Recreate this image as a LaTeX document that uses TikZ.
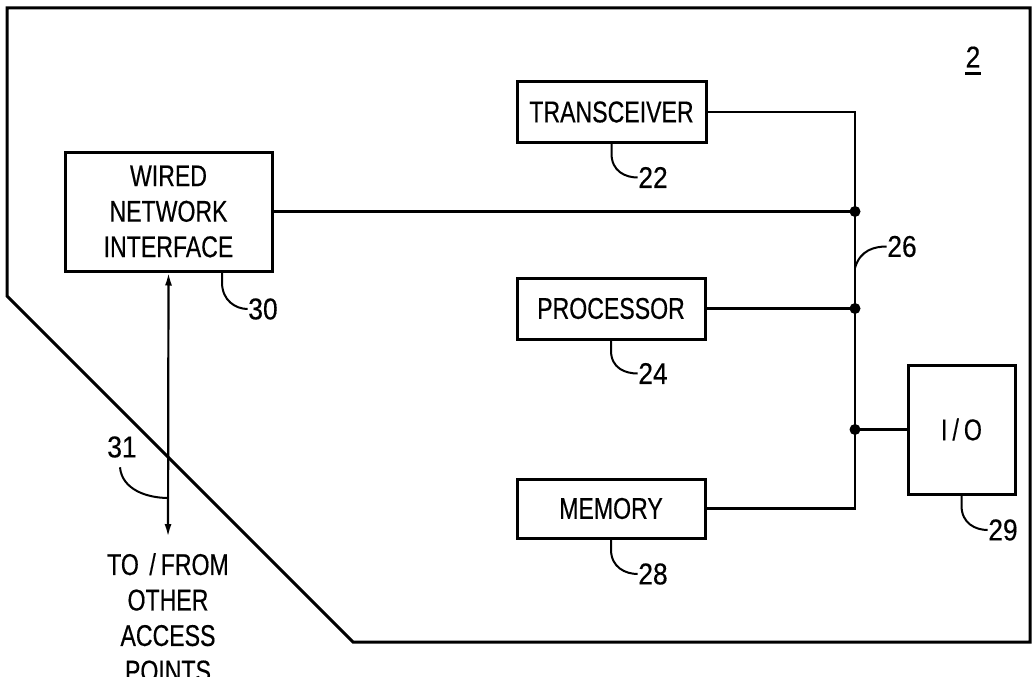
\documentclass[tikz,border=0pt]{standalone}
\usepackage{fontspec}
\setmainfont{Liberation Sans}[FakeStretch=0.77,FakeBold=0.4]
\newfontfamily\numfamily{Liberation Sans}[FakeStretch=0.88,FakeBold=0.4]
\usetikzlibrary{arrows.meta,calc}
\newcommand\figfont{\fontsize{30}{35.5}\selectfont}
\newcommand\numfont{\numfamily\fontsize{30}{35.5}\selectfont}
\begin{document}
\begin{tikzpicture}[x=1pt,y=-1pt,
  frame/.style={draw,line width=3pt,line join=miter},
  box/.style={draw,line width=3pt,inner sep=0pt,align=center,font=\figfont},
  conn/.style={line width=2.2pt},
  lead/.style={line width=2pt},
  lbl/.style={font=\numfont,inner sep=0.5pt},
  dot/.style={circle,fill,inner sep=0pt,minimum size=11pt}]
\useasboundingbox (0,0) rectangle (1034,677);
% outer outline
\draw[frame] (7,8) -- (1030,8) -- (1030,642) -- (353,642) -- (7,296) -- cycle;
% blocks
\node[box,minimum width=207pt,minimum height=119pt] (wni) at (168.5,211.5) {WIRED\\NETWORK\\INTERFACE};
\node[box,minimum width=189pt,minimum height=60pt] (tr) at (611.5,112) {TRANSCEIVER};
\node[box,minimum width=188pt,minimum height=61pt] (proc) at (611,308.5) {PROCESSOR};
\node[box,minimum width=188pt,minimum height=59pt] (mem) at (611,508.5) {MEMORY};
\node[box,minimum width=107pt,minimum height=129pt] (io) at (961.5,429.5) {I\,/\,O};
% bus
\coordinate (bus) at (855,0);
\draw[conn] (tr.east) -| (bus |- mem.east) -- (mem.east);
\draw[conn] (wni.east) -- (wni.east -| bus);
\draw[conn] (proc.east) -- (proc.east -| bus);
\draw[conn] (io.west) -- (io.west -| bus);
\node[dot] (jw) at (wni.east -| bus) {};
\node[dot] (jp) at (proc.east -| bus) {};
\node[dot] (ji) at (io.west -| bus) {};
% external link
\node[font=\figfont,align=center,anchor=north,inner sep=0pt] (apt) at (168,553) {TO\hspace{0.35em}/\,FROM\\OTHER\\ACCESS\\POINTS};
\draw[conn,{Latex[length=13pt,width=7pt]}-{Latex[length=13pt,width=7pt]},shorten >=16pt] (wni.south) -- (apt.north);
% reference numerals
\node[lbl] (l22) at (653,177.5) {22};
\node[lbl] (l30) at (263,309) {30};
\node[lbl] (l24) at (653,373.5) {24};
\node[lbl] (l28) at (653,574) {28};
\node[lbl] (l29) at (1003,530) {29};
\node[lbl] (l26) at (902,246.5) {26};
\node[lbl] (l31) at (122,447) {31};
\node[lbl,inner sep=0pt] (fig) at (973,57) {2};
\draw[line width=2.5pt] ([yshift=-6pt]fig.south west) -- ([yshift=-6pt]fig.south east);
% leaders
\draw[lead] (tr.south) -- ++(0,10) .. controls +(0,18) and +(-12,0) .. (l22.west);
\draw[lead] ($(wni.south)+(53.5,0)$) -- ++(0,10) .. controls +(0,18) and +(-12,0) .. (l30.west);
\draw[lead] (proc.south) -- ++(0,10) .. controls +(0,18) and +(-12,0) .. (l24.west);
\draw[lead] (mem.south) -- ++(0,10) .. controls +(0,18) and +(-12,0) .. (l28.west);
\draw[lead] (io.south) -- ++(0,10) .. controls +(0,18) and +(-12,0) .. (l29.west);
\coordinate (c26) at (855,268);
\draw[lead] (c26) .. controls +(5,-18) and +(-12,0) .. (l26.west);
\coordinate (c31) at (168.5,498);
\draw[lead] ($(l31.south)+(-2,9)$) .. controls +(2,22) and +(-22,0) .. (c31);
\end{tikzpicture}
\end{document}
